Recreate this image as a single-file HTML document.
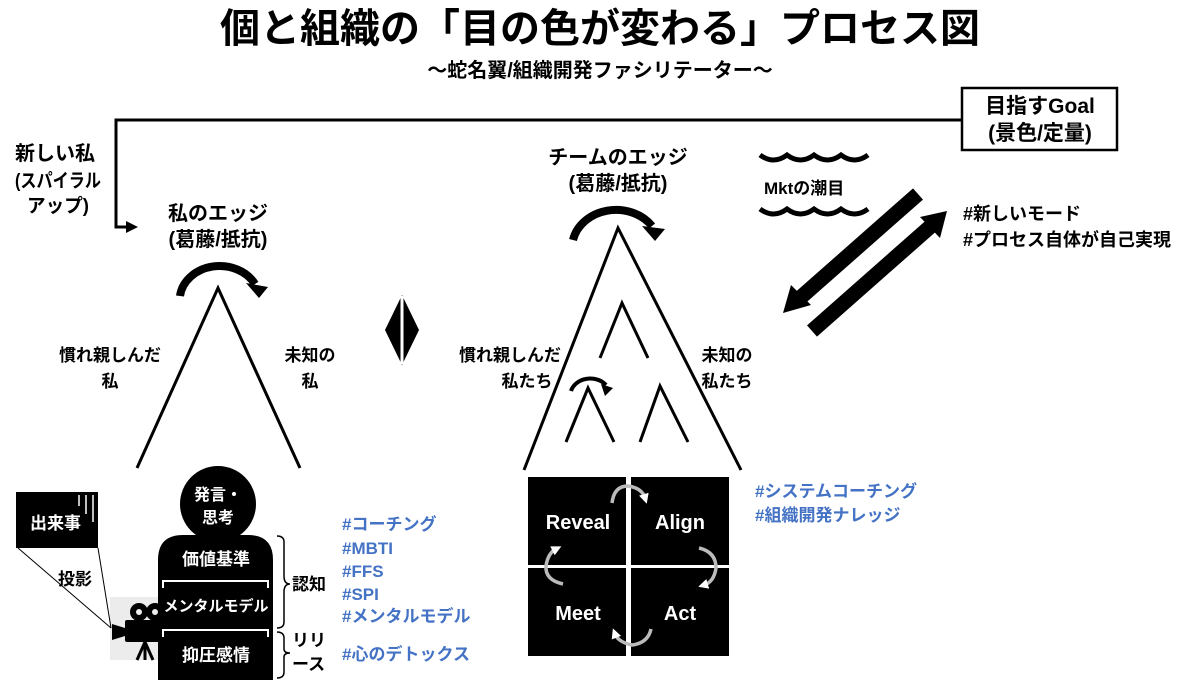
<!DOCTYPE html>
<html><head><meta charset="utf-8"><style>
html,body{margin:0;padding:0;background:#fff;}
svg{display:block;}
text{font-family:"Liberation Sans","Noto Sans CJK JP",sans-serif;font-weight:bold;}
</style></head><body>
<svg width="1200" height="680" viewBox="0 0 1200 680" xmlns="http://www.w3.org/2000/svg">
<defs>
<marker id="ag" markerWidth="10" markerHeight="10" refX="4" refY="5" orient="auto" markerUnits="userSpaceOnUse"><path d="M0,0 L10,5 L0,10 z" fill="#fff"/></marker>
</defs>
<!-- title -->
<text x="600" y="42" font-size="40" text-anchor="middle">個と組織の「目の色が変わる」プロセス図</text>
<text x="600" y="77" font-size="20" text-anchor="middle">〜蛇名翼/組織開発ファシリテーター〜</text>

<!-- frame line -->
<polyline points="962,120 116,120 116,227 128,227" fill="none" stroke="#000" stroke-width="3"/>
<path d="M126,221 L138,227 L126,233 z"/>
<rect x="962" y="88" width="155" height="62" fill="#fff" stroke="#000" stroke-width="2.5"/>
<text x="1040" y="113" font-size="21" text-anchor="middle">目指すGoal</text>
<text x="1040" y="140" font-size="21" text-anchor="middle">(景色/定量)</text>

<text x="15" y="160" font-size="20">新しい私</text>
<text x="15" y="187" font-size="19" textLength="86" lengthAdjust="spacingAndGlyphs">(スパイラル</text>
<text x="27" y="212" font-size="19" textLength="62" lengthAdjust="spacingAndGlyphs">アップ)</text>

<!-- personal edge -->
<text x="218" y="220" font-size="20" text-anchor="middle">私のエッジ</text>
<text x="218" y="246" font-size="20" text-anchor="middle">(葛藤/抵抗)</text>
<path d="M180,296 A40,34 0 0 1 255,284" fill="none" stroke="#000" stroke-width="8"/>
<path d="M246,283 L268,287 L259,298 z"/>
<polyline points="137,468 218,288 300,468" fill="none" stroke="#000" stroke-width="3"/>
<text x="110" y="361" font-size="17" text-anchor="middle">慣れ親しんだ</text>
<text x="110" y="387" font-size="17" text-anchor="middle">私</text>
<text x="310" y="361" font-size="17" text-anchor="middle">未知の</text>
<text x="310" y="387" font-size="17" text-anchor="middle">私</text>

<!-- diamond -->
<path d="M402,295 L419,330 L402,365 L385,330 z"/>
<line x1="402" y1="296" x2="402" y2="364" stroke="#fff" stroke-width="3"/>

<!-- team -->
<text x="618" y="164" font-size="20" text-anchor="middle">チームのエッジ</text>
<text x="618" y="190" font-size="20" text-anchor="middle">(葛藤/抵抗)</text>
<path d="M573,240 A44,38 0 0 1 652,226" fill="none" stroke="#000" stroke-width="8"/>
<path d="M642,226 L665,229 L655,241 z"/>
<polyline points="524,470 618,228 741,470" fill="none" stroke="#000" stroke-width="3"/>
<polyline points="600,358 622,303 648,358" fill="none" stroke="#000" stroke-width="3"/>
<polyline points="566,442 588,388 614,442" fill="none" stroke="#000" stroke-width="3"/>
<polyline points="640,442 660,386 688,442" fill="none" stroke="#000" stroke-width="3"/>
<path d="M571,391 A20,17 0 0 1 606,385" fill="none" stroke="#000" stroke-width="4"/>
<path d="M601,384 L613,388 L605,396 z"/>
<text x="510" y="361" font-size="17" text-anchor="middle">慣れ親しんだ</text>
<text x="527" y="387" font-size="17" text-anchor="middle">私たち</text>
<text x="727" y="361" font-size="17" text-anchor="middle">未知の</text>
<text x="727" y="387" font-size="17" text-anchor="middle">私たち</text>

<!-- waves -->
<path d="M760,155 q13.5,10 27,0 q13.5,10 27,0 q13.5,10 27,0 q13.5,10 27,0" fill="none" stroke="#000" stroke-width="5"/>
<path d="M760,209 q13.5,10 27,0 q13.5,10 27,0 q13.5,10 27,0 q13.5,10 27,0" fill="none" stroke="#000" stroke-width="5"/>
<text x="764" y="194" font-size="17">Mktの潮目</text>

<!-- diagonal arrows -->
<line x1="918" y1="194" x2="800" y2="298" stroke="#000" stroke-width="15"/>
<path d="M783,313 L791,285 L811,305 z"/>
<line x1="812" y1="331" x2="931" y2="226" stroke="#000" stroke-width="15"/>
<path d="M947,211 L940,238 L920,217 z"/>
<text x="963" y="220" font-size="18">#新しいモード</text>
<text x="963" y="246" font-size="18">#プロセス自体が自己実現</text>

<!-- bottom left -->
<rect x="110" y="597" width="52" height="63" fill="#ececec"/>
<line x1="18" y1="548" x2="111" y2="628" stroke="#000" stroke-width="1"/>
<line x1="98" y1="548" x2="111" y2="628" stroke="#000" stroke-width="1"/>
<rect x="16" y="492" width="82" height="56" fill="#000"/>
<text x="30" y="529" font-size="17" fill="#fff">出来事</text>
<line x1="79" y1="495" x2="79" y2="506" stroke="#fff" stroke-width="1.5"/>
<line x1="86" y1="495" x2="86" y2="514" stroke="#fff" stroke-width="1.5"/>
<line x1="93" y1="495" x2="93" y2="522" stroke="#fff" stroke-width="1.5"/>
<text x="58" y="585" font-size="17">投影</text>
<!-- camera -->
<circle cx="139" cy="612" r="9"/><circle cx="155" cy="612" r="9"/>
<circle cx="139" cy="612" r="3" fill="#ececec"/><circle cx="155" cy="612" r="3" fill="#ececec"/>
<rect x="125" y="620" width="38" height="22" rx="2"/>
<path d="M112,624 L125,628 L125,636 L112,640 z"/>
<line x1="145" y1="642" x2="137" y2="660" stroke="#000" stroke-width="3"/>
<line x1="145" y1="642" x2="145" y2="660" stroke="#000" stroke-width="3"/>
<line x1="145" y1="642" x2="153" y2="660" stroke="#000" stroke-width="3"/>

<!-- person -->
<circle cx="218" cy="504" r="38"/>
<text x="218" y="500" font-size="16" fill="#fff" text-anchor="middle">発言・</text>
<text x="218" y="523" font-size="16" fill="#fff" text-anchor="middle">思考</text>
<path d="M158,680 L158,560 Q158,535 183,535 L248,535 Q273,535 273,560 L273,680 z"/>
<polyline points="163,588 163,581 268,581 268,588" fill="none" stroke="#fff" stroke-width="2"/>
<polyline points="163,637 163,630 268,630 268,637" fill="none" stroke="#fff" stroke-width="2"/>
<text x="216" y="565" font-size="17" fill="#fff" text-anchor="middle">価値基準</text>
<text x="216" y="611" font-size="15" fill="#fff" text-anchor="middle">メンタルモデル</text>
<text x="216" y="661" font-size="17" fill="#fff" text-anchor="middle">抑圧感情</text>
<path d="M277,536 Q284,536 284,542 L284,576 Q284,584 290,584 Q284,584 284,592 L284,622 Q284,628 277,628" fill="none" stroke="#000" stroke-width="1.5"/>
<path d="M277,632 Q284,632 284,638 L284,649 Q284,653 290,653 Q284,653 284,657 L284,672 Q284,678 277,678" fill="none" stroke="#000" stroke-width="1.5"/>
<text x="292" y="590" font-size="17">認知</text>
<text x="292" y="646" font-size="17">リリ</text>
<text x="292" y="670" font-size="17">ース</text>
<g fill="#4472c4" font-size="17">
<text x="342" y="530">#コーチング</text>
<text x="342" y="554">#MBTI</text>
<text x="342" y="577">#FFS</text>
<text x="342" y="600">#SPI</text>
<text x="342" y="622">#メンタルモデル</text>
<text x="342" y="660">#心のデトックス</text>
<text x="755" y="497">#システムコーチング</text>
<text x="755" y="521">#組織開発ナレッジ</text>
</g>

<!-- quad -->
<rect x="528" y="477" width="98" height="88"/>
<rect x="631" y="477" width="98" height="88"/>
<rect x="528" y="568" width="98" height="88"/>
<rect x="631" y="568" width="98" height="88"/>
<text x="578" y="529" font-size="20" fill="#fff" text-anchor="middle">Reveal</text>
<text x="680" y="529" font-size="20" fill="#fff" text-anchor="middle">Align</text>
<text x="578" y="620" font-size="20" fill="#fff" text-anchor="middle">Meet</text>
<text x="680" y="620" font-size="20" fill="#fff" text-anchor="middle">Act</text>
<g fill="none" stroke="#bbb" stroke-width="3.5">
<path d="M612,503 Q614,486 628,486 Q642,488 645,498" marker-end="url(#ag)"/>
<path d="M699,548 Q716,552 716,568 Q714,582 704,585" marker-end="url(#ag)"/>
<path d="M651,629 Q648,643 632,645 Q618,642 615,634" marker-end="url(#ag)"/>
<path d="M563,584 Q545,580 546,566 Q548,553 556,549" marker-end="url(#ag)"/>
</g>
</svg>
</body></html>
